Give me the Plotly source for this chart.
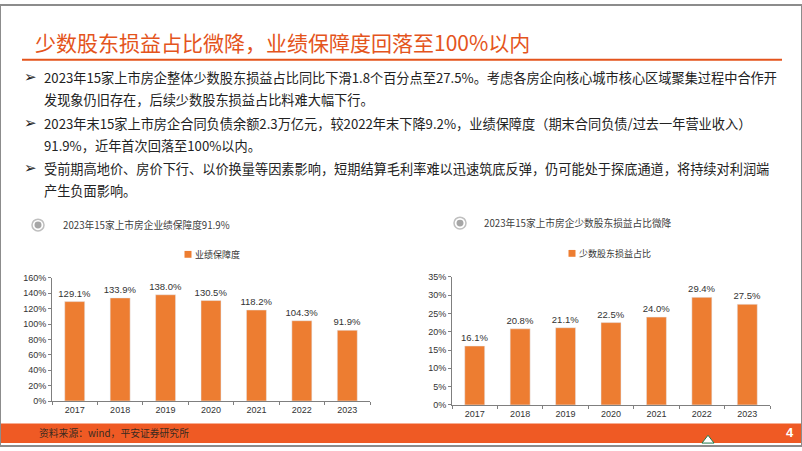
import plotly.graph_objects as go

W, H = 802, 451

years = ["2017", "2018", "2019", "2020", "2021", "2022", "2023"]
guarantee_pct = [129.1, 133.9, 138.0, 130.5, 118.2, 104.3, 91.9]
minority_pct = [16.1, 20.8, 21.1, 22.5, 24.0, 29.4, 27.5]
left_ticks = [0, 20, 40, 60, 80, 100, 120, 140, 160]
right_ticks = [0, 5, 10, 15, 20, 25, 30, 35]

title_text = "少数股东损益占比微降，业绩保障度回落至100%以内"
bullet_lines = [
    (True, "2023年15家上市房企整体少数股东损益占比同比下滑1.8个百分点至27.5%。考虑各房企向核心城市核心区域聚集过程中合作开"),
    (False, "发现象仍旧存在，后续少数股东损益占比料难大幅下行。"),
    (True, "2023年末15家上市房企合同负债余额2.3万亿元，较2022年末下降9.2%，业绩保障度（期末合同负债/过去一年营业收入）"),
    (False, "91.9%，近年首次回落至100%以内。"),
    (True, "受前期高地价、房价下行、以价换量等因素影响，短期结算毛利率难以迅速筑底反弹，仍可能处于探底通道，将持续对利润端"),
    (False, "产生负面影响。"),
]
left_sub = "2023年15家上市房企业绩保障度91.9%"
right_sub = "2023年15家上市房企少数股东损益占比微降"
left_series = "业绩保障度"
right_series = "少数股东损益占比"
source_text = "资料来源：wind，平安证券研究所"
page_no = "4"

ORANGE = "#ED7D31"
RED = "#E4541C"
BAND = "#EF5A24"
CJK = "Noto Sans CJK SC"
LAT = "Liberation Sans, Arial"

def px(x):
    return x / W

def py(y):
    return 1 - y / H

fig = go.Figure()

fig.add_trace(go.Bar(
    x=years, y=guarantee_pct, name=left_series, marker_color=ORANGE,
    text=[f"{v:.1f}%" for v in guarantee_pct], textposition="outside", constraintext="none",
    textfont=dict(size=9.5, color="#333333", family=LAT), cliponaxis=False,
    xaxis="x", yaxis="y", showlegend=False,
))
fig.add_trace(go.Bar(
    x=years, y=minority_pct, name=right_series, marker_color=ORANGE,
    text=[f"{v:.1f}%" for v in minority_pct], textposition="outside", constraintext="none",
    textfont=dict(size=9.5, color="#333333", family=LAT), cliponaxis=False,
    xaxis="x2", yaxis="y2", showlegend=False,
))

axis_common = dict(showline=True, linecolor="#7f7f7f", linewidth=1, showgrid=False,
                   zeroline=False, tickfont=dict(size=9, color="#333333", family=LAT),
                   ticks="outside", ticklen=3, tickcolor="#7f7f7f", fixedrange=True)

fig.update_layout(
    width=W, height=H, margin=dict(l=0, r=0, t=0, b=0),
    paper_bgcolor="white", plot_bgcolor="white",
    bargap=0.56,
    xaxis=dict(domain=[px(52), px(370)], anchor="y", tickson="boundaries", **axis_common),
    yaxis=dict(domain=[py(405), py(279)], anchor="x", range=[0, 160], tickvals=left_ticks,
               ticktext=[f"{t}%" for t in left_ticks], **axis_common),
    xaxis2=dict(domain=[px(452), px(770)], anchor="y2", tickson="boundaries", **axis_common),
    yaxis2=dict(domain=[py(409), py(278)], anchor="x2", range=[0, 35], tickvals=right_ticks,
                ticktext=[f"{t}%" for t in right_ticks], **axis_common),
    showlegend=False,
)

ann = []
shapes = []

# title
ann.append(dict(x=px(33), y=py(38), xref="paper", yref="paper", text=title_text, showarrow=False,
                xanchor="left", yanchor="middle", font=dict(size=21, color=RED, family=CJK)))
shapes.append(dict(type="line", xref="paper", yref="paper", x0=px(22), x1=px(782), y0=py(56), y1=py(56),
                   line=dict(color=RED, width=2)))

# bullets
ys = [74, 97, 121, 144, 167, 190]
for (has_b, line), yy in zip(bullet_lines, ys):
    if has_b:
        ann.append(dict(x=px(30), y=py(yy), xref="paper", yref="paper", text="<b>➢</b>", showarrow=False,
                        xanchor="center", yanchor="middle", font=dict(size=15, color="#222222", family="DejaVu Sans")))
    ann.append(dict(x=px(42), y=py(yy), xref="paper", yref="paper", text=line, showarrow=False,
                    xanchor="left", yanchor="middle", font=dict(size=13.2, color="#222222", family=CJK)))

# subtitles with radio icons
for cx, cy, tx, txt in [(38, 225, 61, left_sub), (460, 223, 482, right_sub)]:
    shapes.append(dict(type="circle", xref="paper", yref="paper", x0=px(cx - 6), x1=px(cx + 6),
                       y0=py(cy + 6), y1=py(cy - 6), line=dict(color="#bfbfbf", width=1.5), fillcolor="white"))
    shapes.append(dict(type="circle", xref="paper", yref="paper", x0=px(cx - 3.5), x1=px(cx + 3.5),
                       y0=py(cy + 3.5), y1=py(cy - 3.5), line=dict(width=0), fillcolor="#a6a6a6"))
    ann.append(dict(x=px(tx), y=py(cy), xref="paper", yref="paper", text=txt, showarrow=False,
                    xanchor="left", yanchor="middle", font=dict(size=9.7, color="#404040", family=CJK)))

# legends (manual keys)
for sx, sy, name in [(188, 255, left_series), (572, 254, right_series)]:
    shapes.append(dict(type="rect", xref="paper", yref="paper", x0=px(sx - 3.5), x1=px(sx + 3.5),
                       y0=py(sy + 3.5), y1=py(sy - 3.5), line=dict(width=0), fillcolor=ORANGE))
    ann.append(dict(x=px(sx + 5), y=py(sy), xref="paper", yref="paper", text=name, showarrow=False,
                    xanchor="left", yanchor="middle", font=dict(size=9, color="#333333", family=CJK)))

# footer band
shapes.append(dict(type="rect", xref="paper", yref="paper", x0=0, x1=1, y0=py(448), y1=py(428),
                   line=dict(width=0), fillcolor=BAND, layer="below"))
ann.append(dict(x=px(37), y=py(438), xref="paper", yref="paper", text=source_text, showarrow=False,
                xanchor="left", yanchor="middle", font=dict(size=9.8, color="#3a2a20", family=CJK)))
ann.append(dict(x=px(790), y=py(437), xref="paper", yref="paper", text="<b>" + page_no + "</b>", showarrow=False,
                xanchor="center", yanchor="middle", font=dict(size=13, color="white", family=LAT)))
# small logo triangle
shapes.append(dict(type="path", xref="paper", yref="paper",
                   path=f"M {px(702)},{py(448)} L {px(708)},{py(440)} L {px(714)},{py(448)} Z",
                   line=dict(color="#1f7a4a", width=1), fillcolor="white"))
# slide frame
shapes.append(dict(type="rect", xref="paper", yref="paper", x0=0, x1=1, y0=0, y1=1,
                   line=dict(color="#8c8c8c", width=2), fillcolor="rgba(0,0,0,0)"))

fig.update_layout(annotations=ann, shapes=shapes)
fig.write_html("out.html", config={"displayModeBar": False},
               post_script="document.body.style.margin='0';document.body.style.overflow='hidden';")
